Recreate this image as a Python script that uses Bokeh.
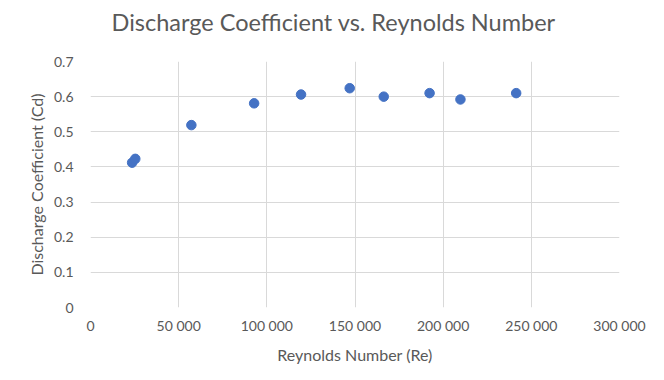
from bokeh.plotting import figure
from bokeh.models import FixedTicker, ColumnDataSource, Title
from bokeh.embed import file_html
from bokeh.resources import INLINE

reynolds = [23600, 25400, 57200, 92800, 119400, 147000, 166300, 192300, 209800, 241400]
cd = [0.412, 0.423, 0.519, 0.581, 0.606, 0.624, 0.600, 0.610, 0.592, 0.610]

title_text = "Discharge Coefficient vs. Reynolds Number"
x_ticks = [0, 50000, 100000, 150000, 200000, 250000, 300000]
x_tick_labels = ["0", "50 000", "100 000", "150 000", "200 000", "250 000", "300 000"]
y_ticks = [0, 0.1, 0.2, 0.3, 0.4, 0.5, 0.6, 0.7]
y_tick_labels = ["0", "0.1", "0.2", "0.3", "0.4", "0.5", "0.6", "0.7"]

FONT = "Lato"
TXT = "#595959"
GRID = "#d9d9d9"

p = figure(width=648, height=368, x_range=(0, 300000), y_range=(0, 0.7),
           output_backend="svg", toolbar_location=None,
           min_border_left=90, min_border_right=29, min_border_top=59, min_border_bottom=61)

p.outline_line_color = None
p.background_fill_color = "white"
p.border_fill_color = "white"

src = ColumnDataSource(dict(x=reynolds, y=cd))
p.scatter("x", "y", source=src, size=9.5, fill_color="#4472C4", line_color="#4472C4")

# spacer between frame and title
spacer = Title(text=" ", text_font=FONT, text_font_size="16px", standoff=0)
p.add_layout(spacer, "above")
main_title = Title(text=title_text, align="left", offset=21, standoff=10,
                   text_font=FONT, text_font_size="23.5px", text_font_style="normal",
                   text_color=TXT)
p.add_layout(main_title, "above")

p.xaxis.ticker = FixedTicker(ticks=x_ticks)
p.xaxis.major_label_overrides = {t: l for t, l in zip(x_ticks, x_tick_labels)}
p.yaxis.ticker = FixedTicker(ticks=y_ticks)
p.yaxis.major_label_overrides = {t: l for t, l in zip(y_ticks, y_tick_labels)}

for ax in (p.xaxis, p.yaxis):
    ax.axis_line_color = None
    ax.major_tick_line_color = None
    ax.minor_tick_line_color = None
    ax.major_tick_out = 0
    ax.major_label_text_font = FONT
    ax.major_label_text_font_size = "14px"
    ax.major_label_text_color = TXT
    ax.axis_label_text_font = FONT
    ax.axis_label_text_font_size = "16px"
    ax.axis_label_text_font_style = "normal"
    ax.axis_label_text_color = TXT

p.xaxis.axis_label = "Reynolds Number (Re)"
p.yaxis.axis_label = "Discharge Coefficient (Cd)"
p.xaxis.major_label_standoff = 9
p.yaxis.major_label_standoff = 17
p.xaxis.axis_label_standoff = 8
p.yaxis.axis_label_standoff = 5

p.xgrid.grid_line_color = GRID
p.ygrid.grid_line_color = GRID
p.xgrid.grid_line_width = 1
p.ygrid.grid_line_width = 1

open("out.html", "w").write(file_html(p, INLINE))
